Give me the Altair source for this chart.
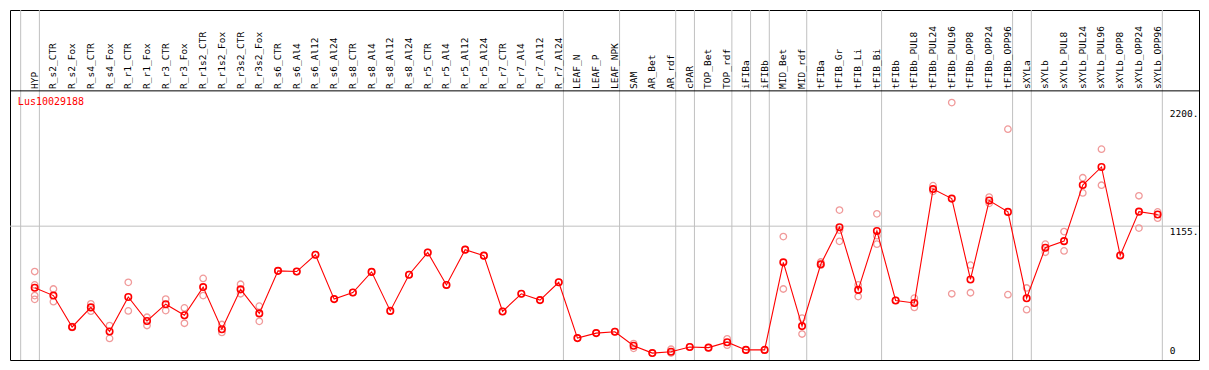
import altair as alt
import pandas as pd

columns = ["HYP", "R_s2_CTR", "R_s2_Fox", "R_s4_CTR", "R_s4_Fox", "R_r1_CTR", "R_r1_Fox",
           "R_r3_CTR", "R_r3_Fox", "R_r1s2_CTR", "R_r1s2_Fox", "R_r3s2_CTR", "R_r3s2_Fox",
           "R_s6_CTR", "R_s6_Al4", "R_s6_Al12", "R_s6_Al24", "R_s8_CTR", "R_s8_Al4", "R_s8_Al12",
           "R_s8_Al24", "R_r5_CTR", "R_r5_Al4", "R_r5_Al12", "R_r5_Al24", "R_r7_CTR", "R_r7_Al4",
           "R_r7_Al12", "R_r7_Al24", "LEAF_N", "LEAF_P", "LEAF_NPK", "SAM", "AR_Bet", "AR_rdf",
           "cPAR", "TOP_Bet", "TOP_rdf", "iFIBa", "iFIBb", "MID_Bet", "MID_rdf", "tFIBa", "tFIB_Gr",
           "tFIB_Li", "tFIB_Bi", "tFIBb", "tFIBb_PUL8", "tFIBb_PUL24", "tFIBb_PUL96", "tFIBb_OPP8",
           "tFIBb_OPP24", "tFIBb_OPP96", "sXYLa", "sXYLb", "sXYLb_PUL8", "sXYLb_PUL24",
           "sXYLb_PUL96", "sXYLb_OPP8", "sXYLb_OPP24", "sXYLb_OPP96"]

means = [612, 543, 266, 439, 226, 531, 319, 467, 369, 618, 246, 598, 386,
         761, 755, 903, 512, 570, 752, 408, 727, 923, 637, 948, 895, 403, 559, 503, 660,
         168, 212, 224, 101, 36, 48, 90, 84, 132, 64, 64, 836, 274, 819, 1146, 593, 1113,
         500, 478, 1482, 1398, 685, 1381, 1281, 520, 965, 1023, 1518, 1677, 897, 1283, 1258]

replicates = [
    [755, 637, 543, 510], [601, 489], [270, 262], [470, 405], [279, 165], [660, 408],
    [352, 279], [512, 411], [434, 299], [694, 543], [288, 218], [643, 559], [450, 316],
    [761], [755], [903], [512], [570], [752], [408], [727], [923], [637], [948], [895],
    [403], [559], [503], [660], [168], [212], [224],
    [120, 78], [36], [70, 36], [90], [84], [162, 106], [64], [64],
    [1063, 601], [344, 204], [839, 811], [1297, 1021, 1120], [637, 534], [1264, 996, 1071],
    [500], [520, 439], [1512, 1462], [2245, 559], [811, 568], [1412, 1356], [2010, 551],
    [610, 419], [996, 925], [1107, 937], [1582, 1448], [1834, 1516], [897], [1423, 1138],
    [1281, 1225],
]

# last column index of each group (group separators); -1 marks the left edge
group_ends = [-1, 0, 28, 31, 34, 35, 37, 38, 39, 41, 45, 52, 53, 60]

tick_values = [0, 1155, 2200]
tick_labels = ["0", "1155.", "2200."]

gene_id = "Lus10029188"

# ---------------------------------------------------------------
XMIN, XMAX = -1.32, 62.21
YMIN, YMAX = -25, 3061
HEADER_Y = 2348
LABEL_Y = 2365
TITLE_X = -0.9
TITLE_Y = 2254
RIGHT_LABEL_X = 60.65
SEP_OFFSET = 0.25
FONT = "DejaVu Sans Mono"

mean_df = pd.DataFrame({"idx": list(range(len(columns))), "col": columns, "value": means})
rep_df = pd.DataFrame([
    {"idx": i, "value": v}
    for i, reps in enumerate(replicates) for v in reps
])
sep_df = pd.DataFrame({"end": group_ends})
tick_df = pd.DataFrame({"value": tick_values, "label": tick_labels})
title_df = pd.DataFrame({"label": [gene_id]})

xs = alt.Scale(domain=[XMIN, XMAX], nice=False, zero=False)
ys = alt.Scale(domain=[YMIN, YMAX], nice=False, zero=False)


def X(field):
    return alt.X(field, type="quantitative", scale=xs, axis=None)


def Y(field):
    return alt.Y(field, type="quantitative", scale=ys, axis=None)


seps = alt.Chart(sep_df).transform_calculate(
    xpos=f"datum.end + {SEP_OFFSET}", ytop=f"{YMAX}", ybot=f"{YMIN}"
).mark_rule(color="#c0c0c0", strokeWidth=1).encode(
    x=X("xpos"), y=Y("ytop"), y2="ybot:Q"
)

hgrid = alt.Chart(tick_df).transform_filter("datum.value == 1155").transform_calculate(
    xl=f"{XMIN}", xr=f"{XMAX}"
).mark_rule(color="#c0c0c0", strokeWidth=1).encode(
    y=Y("value"), x=X("xl"), x2="xr:Q"
)

header_line = alt.Chart(title_df).transform_calculate(
    xl=f"{XMIN}", xr=f"{XMAX}", yh=f"{HEADER_Y}"
).mark_rule(color="black", strokeWidth=1).encode(
    y=Y("yh"), x=X("xl"), x2="xr:Q"
)

header_labels = alt.Chart(mean_df).transform_calculate(
    yl=f"{LABEL_Y}"
).mark_text(
    angle=270, align="left", baseline="middle", font=FONT, fontSize=9.5, color="black"
).encode(
    x=X("idx"), y=Y("yl"), text="col:N"
)

title = alt.Chart(title_df).transform_calculate(
    tx=f"{TITLE_X}", ty=f"{TITLE_Y}"
).mark_text(
    align="left", baseline="middle", font=FONT, fontSize=10, color="#ff0000"
).encode(
    x=X("tx"), y=Y("ty"), text="label:N"
)

right_top = alt.Chart(tick_df).transform_filter("datum.value > 0").transform_calculate(
    lx=f"{RIGHT_LABEL_X}"
).mark_text(
    align="left", baseline="top", font=FONT, fontSize=9.5, color="black", dy=1
).encode(
    x=X("lx"), y=Y("value"), text="label:N"
)

right_zero = alt.Chart(tick_df).transform_filter("datum.value == 0").transform_calculate(
    lx=f"{RIGHT_LABEL_X}"
).mark_text(
    align="left", baseline="bottom", font=FONT, fontSize=9.5, color="black", dy=-1
).encode(
    x=X("lx"), y=Y("value"), text="label:N"
)

reps_layer = alt.Chart(rep_df).mark_point(
    shape="circle", filled=False, size=42, strokeWidth=1.3, color="#f09a9a", opacity=1
).encode(x=X("idx"), y=Y("value"))

line = alt.Chart(mean_df).mark_line(color="#ff0000", strokeWidth=1.1).encode(
    x=X("idx"), y=Y("value")
)

mean_pts = alt.Chart(mean_df).mark_point(
    shape="circle", filled=False, size=42, strokeWidth=1.6, color="#ff0000", opacity=1
).encode(x=X("idx"), y=Y("value"))

chart = alt.layer(
    seps, hgrid, header_line, header_labels, title, right_top, right_zero,
    reps_layer, line, mean_pts
).properties(
    width=1193, height=354,
    autosize=alt.AutoSizeParams(type="fit", contains="padding"),
    padding=1,
).configure_view(stroke="black", strokeWidth=1, fill="white")

chart.save("out.html", embed_options={"renderer": "svg", "actions": False})
